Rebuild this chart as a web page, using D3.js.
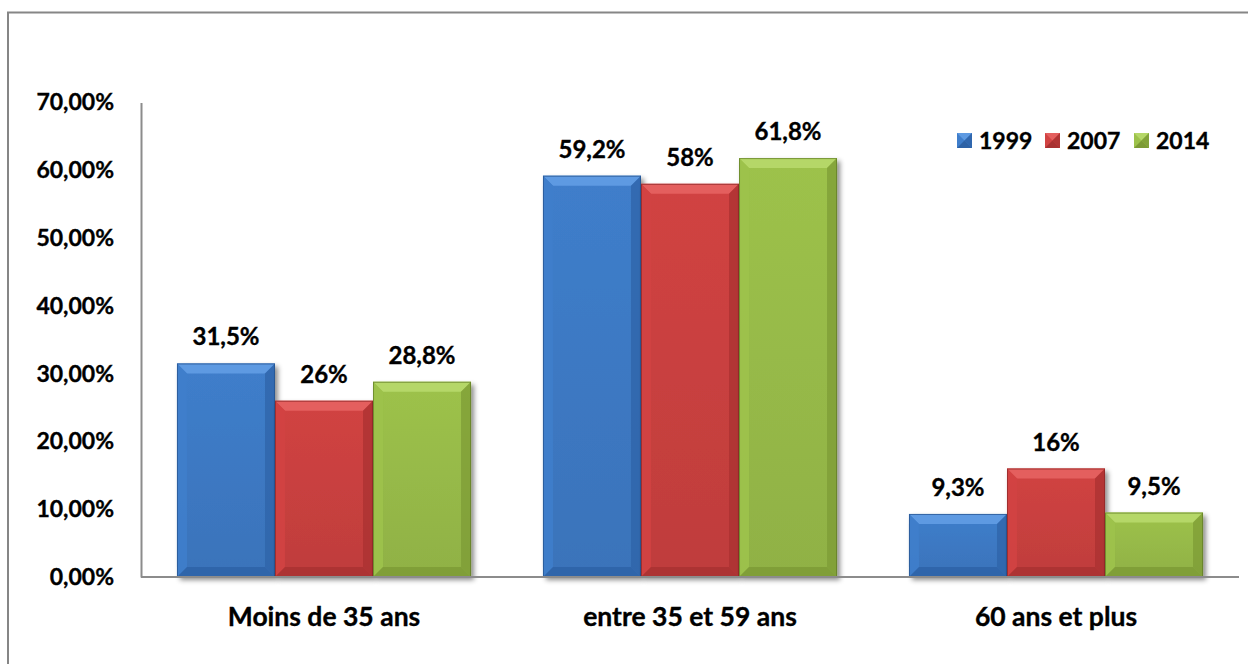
<!DOCTYPE html>
<html>
<head>
<meta charset="utf-8">
<script src="https://cdn.jsdelivr.net/npm/d3@7"></script>
<style>
  body { margin: 0; background: #fff; overflow: hidden; }
  text { font-family: Lato, "Open Sans", sans-serif; font-weight: bold; fill: #000; stroke: #000; stroke-width: 0.35px; }
</style>
</head>
<body>
<div id="chart"></div>
<script>
const categories = ["Moins de 35 ans", "entre 35 et 59 ans", "60 ans et plus"];
const series = ["1999", "2007", "2014"];
const values1999 = [0.315, 0.592, 0.093];
const values2007 = [0.26, 0.58, 0.16];
const values2014 = [0.288, 0.618, 0.095];
const labels1999 = ["31,5%", "59,2%", "9,3%"];
const labels2007 = ["26%", "58%", "16%"];
const labels2014 = ["28,8%", "61,8%", "9,5%"];
const yTicks = [0, 0.1, 0.2, 0.3, 0.4, 0.5, 0.6, 0.7];

const W = 1248, H = 664;
const plot = { left: 141, right: 1239, top: 102.5, bottom: 577 };

// body, light (top/left), dark (right/bottom)
const palette = {
    "1999": { body: "#3f7ecb", light: "#5e9ae2", dark: "#2d62a6", edge: "#24508a" },
    "2007": { body: "#d14342", light: "#e45f5e", dark: "#a83131", edge: "#8a2727" },
    "2014": { body: "#9dc24b", light: "#b5d768", dark: "#7c9a35", edge: "#5f7a25" }
};

const rows = [values1999, values2007, values2014];
const labelRows = [labels1999, labels2007, labels2014];
const data = [];
categories.forEach((c, ci) => {
    series.forEach((s, si) => {
        data.push({ cat: c, s, v: rows[si][ci], label: labelRows[si][ci] });
    });
});

const svg = d3.select("#chart").append("svg")
    .attr("width", W).attr("height", H).style("display", "block");

const defs = svg.append("defs");
const f = defs.append("filter").attr("id", "shadow")
    .attr("x", "-10%").attr("y", "-10%").attr("width", "130%").attr("height", "130%");
f.append("feDropShadow").attr("dx", 3).attr("dy", 3).attr("stdDeviation", 2.5)
    .attr("flood-color", "#000").attr("flood-opacity", 0.45);

series.forEach(s => {
    const g = defs.append("linearGradient").attr("id", "body" + s)
        .attr("x1", 0).attr("x2", 0).attr("y1", 0).attr("y2", 1);
    g.append("stop").attr("offset", "0%").attr("stop-color", palette[s].body);
    g.append("stop").attr("offset", "100%").attr("stop-color", d3.color(palette[s].body).darker(0.25));
});

// outer border (runs off the right and bottom edges)
svg.append("rect")
    .attr("x", 8).attr("y", 12.5).attr("width", W + 20).attr("height", H + 20)
    .attr("fill", "none").attr("stroke", "#868686").attr("stroke-width", 2);

const x0 = d3.scaleBand().domain(categories).range([plot.left, plot.right]).padding(0);
const x1 = d3.scaleBand().domain(series).range([0, x0.bandwidth()])
    .paddingInner(0).paddingOuter(0.367);
const y = d3.scaleLinear().domain([0, 0.7]).range([plot.bottom, plot.top]);

const fmt = v => (v * 100).toFixed(2).replace(".", ",") + "%";

// y axis
const yAxis = svg.append("g")
    .attr("transform", `translate(${plot.left},0)`)
    .call(d3.axisLeft(y).tickValues(yTicks).tickFormat(fmt).tickSize(0).tickPadding(27));
yAxis.select(".domain").attr("stroke", "#8c8c8c").attr("stroke-width", 2);
yAxis.selectAll("text").style("font-size", "23px").attr("fill", "#000");

// bars
const bevel = 10;
const bars = svg.append("g").selectAll("g")
    .data(data)
    .join("g")
    .attr("transform", d => `translate(${x0(d.cat) + x1(d.s)},0)`);

bars.each(function (d) {
    const g = d3.select(this);
    const w = x1.bandwidth();
    const top = y(d.v), bot = y(0), h = bot - top;
    const b = Math.min(bevel, h / 2.5);
    const p = palette[d.s];
    g.append("rect").attr("x", 0).attr("y", top).attr("width", w).attr("height", h)
        .attr("fill", `url(#body${d.s})`).attr("filter", "url(#shadow)");
    // top bevel
    g.append("polygon")
        .attr("points", `0,${top} ${w},${top} ${w - b},${top + b} ${b},${top + b}`)
        .attr("fill", p.light);
    // left bevel
    g.append("polygon")
        .attr("points", `0,${top} ${b},${top + b} ${b},${bot - b} 0,${bot}`)
        .attr("fill", p.body).attr("opacity", 0.9);
    // right bevel
    g.append("polygon")
        .attr("points", `${w},${top} ${w},${bot} ${w - b},${bot - b} ${w - b},${top + b}`)
        .attr("fill", p.dark).attr("opacity", 0.7);
    // bottom bevel
    g.append("polygon")
        .attr("points", `0,${bot} ${w},${bot} ${w - b},${bot - b} ${b},${bot - b}`)
        .attr("fill", p.dark).attr("opacity", 0.8);
    g.append("rect").attr("x", 0.5).attr("y", top + 0.5).attr("width", w - 1).attr("height", h - 1)
        .attr("fill", "none").attr("stroke", p.edge).attr("stroke-width", 1).attr("opacity", 0.7);
    g.append("text")
        .attr("x", w / 2).attr("y", top - 18)
        .attr("text-anchor", "middle")
        .style("font-size", "24px")
        .text(d.label);
});

// x axis line
svg.append("line")
    .attr("x1", plot.left).attr("x2", plot.right)
    .attr("y1", plot.bottom).attr("y2", plot.bottom)
    .attr("stroke", "#8c8c8c").attr("stroke-width", 2);

// category labels
svg.append("g").selectAll("text")
    .data(categories)
    .join("text")
    .attr("x", d => x0(d) + x0.bandwidth() / 2)
    .attr("y", 626)
    .attr("text-anchor", "middle")
    .style("font-size", "26.5px")
    .text(d => d);

// legend
const legendX = [957, 1045, 1134];
const legend = svg.append("g").selectAll("g")
    .data(series)
    .join("g")
    .attr("transform", (d, i) => `translate(${legendX[i]},133)`);

legend.each(function (s) {
    const g = d3.select(this);
    const p = palette[s];
    const sz = 15;
    g.append("rect").attr("width", sz).attr("height", sz).attr("fill", p.body);
    g.append("polygon").attr("points", `0,0 ${sz},0 ${sz / 2},${sz / 2}`).attr("fill", p.light);
    g.append("polygon").attr("points", `${sz},0 ${sz},${sz} ${sz / 2},${sz / 2}`).attr("fill", p.dark).attr("opacity", 0.8);
    g.append("polygon").attr("points", `0,${sz} ${sz},${sz} ${sz / 2},${sz / 2}`).attr("fill", p.dark);
    g.append("text").attr("x", sz + 7).attr("y", 16).style("font-size", "23px").text(s);
});
</script>
</body>
</html>
